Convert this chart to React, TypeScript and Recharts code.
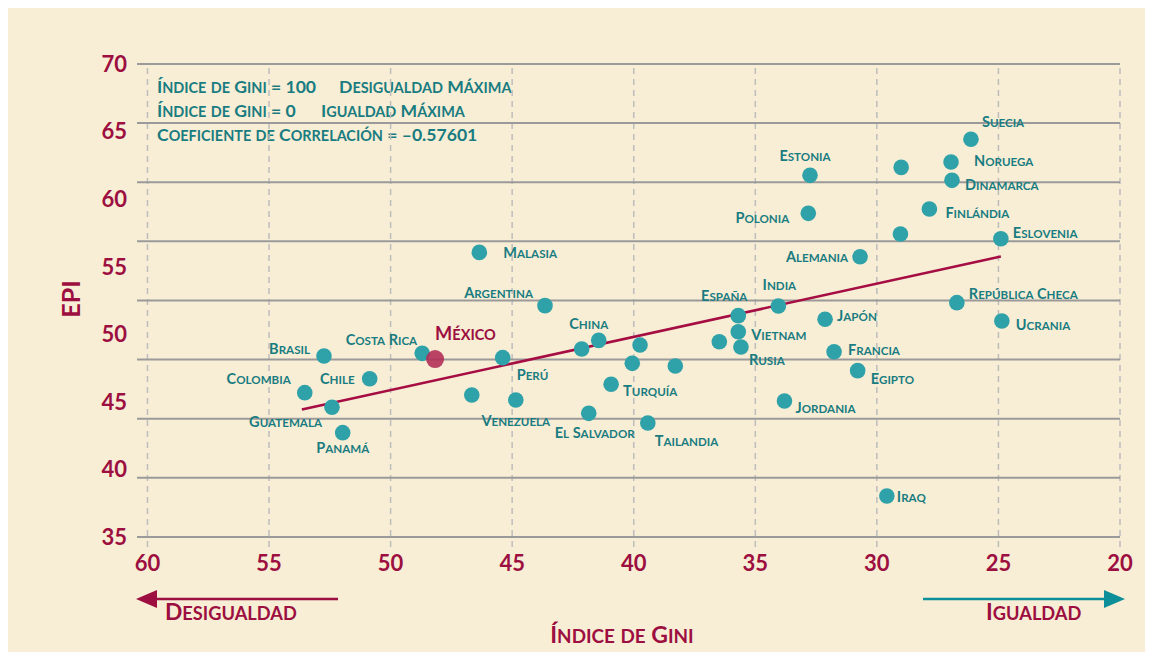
import React from 'react';
import {
  ScatterChart,
  Scatter,
  XAxis,
  YAxis,
  ReferenceLine,
  Customized,
} from 'recharts';

// ---- data ----
const COUNTRIES = [
  'Brasil', 'Costa Rica', 'Colombia', 'Chile', 'Guatemala', 'Panamá', 'Perú', '',
  'Venezuela', 'Argentina', '', 'China', 'Malasia', '', '', '', 'Turquía',
  'El Salvador', 'Tailandia', '', 'España', 'Vietnam', 'Rusia', 'India', 'Suecia', '',
  'Noruega', 'Dinamarca', 'Estonia', 'Polonia', 'Finlándia', '', 'Eslovenia',
  'Alemania', 'República Checa', 'Japón', 'Ucrania', 'Francia', 'Egipto', 'Jordania', 'Iraq',
];
const GINI = [
  52.74, 48.7, 53.53, 50.86, 52.41, 51.97, 45.39, 46.66,
  44.85, 43.65, 42.14, 41.44, 46.35, 39.74, 40.06, 38.29, 40.93,
  41.85, 39.42, 36.48, 35.7, 35.7, 35.59, 34.05, 26.13, 29.0,
  26.95, 26.91, 32.75, 32.82, 27.84, 29.03, 24.9,
  30.69, 26.71, 32.13, 24.86, 31.76, 30.79, 33.8, 29.59,
];
const EPI = [
  48.39, 48.59, 45.68, 46.71, 44.6, 42.72, 48.27, 45.51,
  45.14, 52.12, 48.91, 49.55, 56.06, 49.21, 47.85, 47.65, 46.3,
  44.15, 43.44, 49.45, 51.38, 50.19, 49.06, 52.09, 64.43, 62.35,
  62.75, 61.39, 61.76, 58.95, 59.27, 57.42, 57.07,
  55.74, 52.34, 51.11, 50.98, 48.71, 47.31, 45.06, 38.03,
];
const MEXICO_NAME = 'México';
const MEXICO_GINI = 48.17;
const MEXICO_EPI = 48.17;

const TREND_GINI = [53.65, 24.9];
const TREND_EPI = [44.44, 55.75];

const X_TICKS = [60, 55, 50, 45, 40, 35, 30, 25, 20];
const Y_TICKS = [35, 40, 45, 50, 55, 60, 65, 70];
const H_GRID = [35, 39.375, 43.75, 48.125, 52.5, 56.875, 61.25, 65.625, 70];

const NOTE_LINES = [
  ['Índice de Gini = 100', 'Desigualdad Máxima'],
  ['Índice de Gini = 0', 'Igualdad Máxima'],
  ['Coeficiente de Correlación = –0.57601', ''],
];
const X_TITLE = 'Índice de Gini';
const Y_TITLE = 'EPI';
const LEFT_ARROW_TEXT = 'Desigualdad';
const RIGHT_ARROW_TEXT = 'Igualdad';

// ---- styling ----
const CRIMSON = '#9c0f40';
const TEAL_TEXT = '#187c81';
const TEAL_DOT = '#2fa2a9';
const BG = '#f8eed5';
const FONT = "Lato, 'DejaVu Sans', sans-serif";

type Lay = { a: 'start' | 'middle' | 'end'; dx: number; dy: number };
const LABEL_LAYOUT: Record<string, Lay> = {
  'Brasil': { a: 'end', dx: -14, dy: -7 },
  'Costa Rica': { a: 'end', dx: -5, dy: -14 },
  'Colombia': { a: 'end', dx: -14, dy: -14 },
  'Chile': { a: 'end', dx: -15, dy: 0 },
  'Guatemala': { a: 'end', dx: -10, dy: 15 },
  'Panamá': { a: 'middle', dx: 0, dy: 15 },
  'Perú': { a: 'start', dx: 14, dy: 17 },
  'Venezuela': { a: 'middle', dx: 0, dy: 21 },
  'Argentina': { a: 'end', dx: -12, dy: -13 },
  'China': { a: 'middle', dx: -10, dy: -17 },
  'Malasia': { a: 'start', dx: 24, dy: 0 },
  'Turquía': { a: 'start', dx: 12, dy: 6 },
  'El Salvador': { a: 'middle', dx: 6, dy: 19 },
  'Tailandia': { a: 'start', dx: 7, dy: 18 },
  'España': { a: 'middle', dx: -14, dy: -20 },
  'Vietnam': { a: 'start', dx: 13, dy: 3 },
  'Rusia': { a: 'start', dx: 8, dy: 13 },
  'India': { a: 'middle', dx: 1, dy: -21 },
  'Suecia': { a: 'start', dx: 11, dy: -17 },
  'Noruega': { a: 'start', dx: 23, dy: -1 },
  'Dinamarca': { a: 'start', dx: 13, dy: 4 },
  'Estonia': { a: 'middle', dx: -5, dy: -20 },
  'Polonia': { a: 'end', dx: -19, dy: 4 },
  'Finlándia': { a: 'start', dx: 16, dy: 4 },
  'Eslovenia': { a: 'start', dx: 12, dy: -6 },
  'Alemania': { a: 'end', dx: -12, dy: 0 },
  'República Checa': { a: 'start', dx: 12, dy: -9 },
  'Japón': { a: 'start', dx: 12, dy: -4 },
  'Ucrania': { a: 'start', dx: 14, dy: 4 },
  'Francia': { a: 'start', dx: 14, dy: -2 },
  'Egipto': { a: 'start', dx: 13, dy: 8 },
  'Jordania': { a: 'start', dx: 11, dy: 7 },
  'Iraq': { a: 'start', dx: 10, dy: 1 },
  'México': { a: 'start', dx: 0, dy: -26 },
};

const countryData = COUNTRIES.map((name, i) => ({ name, gini: GINI[i], epi: EPI[i] }));
const mexicoData = [{ name: MEXICO_NAME, gini: MEXICO_GINI, epi: MEXICO_EPI }];
const trendSegment = TREND_GINI.map((g, i) => ({ x: g, y: TREND_EPI[i] }));

const W = 1145;
const H = 644;

// small caps: lowercase letters drawn as smaller capitals
function smallCaps(text: string, size: number, ratio = 0.8) {
  const parts: { s: string; small: boolean }[] = [];
  for (const ch of text) {
    const small = ch !== ch.toUpperCase();
    const last = parts[parts.length - 1];
    if (last && last.small === small) last.s += ch;
    else parts.push({ s: ch, small });
  }
  return parts.map((p, i) => (
    <tspan key={i} fontSize={p.small ? size * ratio : size}>
      {p.small ? p.s.toUpperCase() : p.s}
    </tspan>
  ));
}

const SCText = (props: {
  x: number; y: number; text: string; size: number; fill: string;
  anchor?: 'start' | 'middle' | 'end'; ratio?: number;
}) => (
  <text
    x={props.x}
    y={props.y}
    textAnchor={props.anchor || 'start'}
    fill={props.fill}
    fontFamily={FONT}
    fontWeight={700}
    fontSize={props.size}
    dominantBaseline="alphabetic"
  >
    {smallCaps(props.text, props.size, props.ratio)}
  </text>
);

const CountryDot = (props: any) => {
  const { cx, cy, payload } = props;
  const lay = LABEL_LAYOUT[payload?.name];
  const size = 14.5;
  return (
    <g>
      <circle cx={cx} cy={cy} r={7.8} fill={TEAL_DOT} />
      {payload?.name && lay ? (
        <SCText
          x={cx + lay.dx}
          y={cy + lay.dy + size * 0.36}
          text={payload.name}
          size={size}
          fill={TEAL_TEXT}
          anchor={lay.a}
        />
      ) : null}
    </g>
  );
};

const MexicoDot = (props: any) => {
  const { cx, cy, payload } = props;
  const lay = LABEL_LAYOUT[payload?.name];
  const size = 18.2;
  return (
    <g>
      <circle cx={cx} cy={cy} r={9} fill="#b02a55" fillOpacity={0.88} />
      <SCText
        x={cx + lay.dx}
        y={cy + lay.dy + size * 0.36}
        text={payload.name}
        size={size}
        fill={CRIMSON}
        anchor={lay.a}
        ratio={0.8}
      />
    </g>
  );
};

const Annotations = () => {
  const ts = 17.6;
  return (
    <g>
      {NOTE_LINES.map((ln, i) => (
        <g key={i}>
          <SCText x={149} y={79 + i * 24 + ts * 0.36} text={ln[0]} size={ts} fill={TEAL_TEXT} ratio={0.82} />
          {ln[1] ? (
            <SCText x={i === 0 ? 331 : 313} y={79 + i * 24 + ts * 0.36} text={ln[1]} size={ts} fill={TEAL_TEXT} ratio={0.82} />
          ) : null}
        </g>
      ))}
      <text
        x={0}
        y={0}
        transform="translate(62,291) rotate(-90)"
        textAnchor="middle"
        dominantBaseline="central"
        fill={CRIMSON}
        fontFamily={FONT}
        fontWeight={700}
        fontSize={25}
      >
        {Y_TITLE}
      </text>
      <SCText x={614} y={627 + 22 * 0.36} text={X_TITLE} size={23} fill={CRIMSON} anchor="middle" ratio={0.82} />
      {/* left arrow */}
      <line x1={330} y1={591} x2={145} y2={591} stroke={CRIMSON} strokeWidth={2.5} />
      <polygon points="128,591 149,582 149,600" fill={CRIMSON} />
      <SCText x={157} y={604 + 22 * 0.36} text={LEFT_ARROW_TEXT} size={22.8} fill={CRIMSON} ratio={0.8} />
      {/* right arrow */}
      <line x1={915} y1={591} x2={1100} y2={591} stroke="#0c8f99" strokeWidth={2.5} />
      <polygon points="1117,591 1096,582 1096,600" fill="#0c8f99" />
      <SCText x={978} y={604 + 22 * 0.36} text={RIGHT_ARROW_TEXT} size={22.8} fill={CRIMSON} ratio={0.8} />
    </g>
  );
};

export default function App() {
  return (
    <div style={{ width: W, height: H, background: BG }}>
      <ScatterChart width={W} height={H} margin={{ top: 56, right: 33, bottom: 0, left: 0 }}>
        {X_TICKS.map((v) => (
          <ReferenceLine key={'v' + v} x={v} stroke="#bdbdbd" strokeWidth={1.5} strokeDasharray="6 5" />
        ))}
        {H_GRID.map((v) => (
          <ReferenceLine key={'h' + v} y={v} stroke="#9a9a9a" strokeWidth={2} />
        ))}
        <XAxis
          type="number"
          dataKey="gini"
          reversed
          domain={[20, 60.43]}
          ticks={X_TICKS}
          allowDataOverflow
          axisLine={false}
          tickLine={false}
          tickMargin={2}
          height={105}
          tick={{ fill: CRIMSON, fontSize: 22, fontWeight: 700, fontFamily: FONT }}
        />
        <YAxis
          type="number"
          dataKey="epi"
          domain={[34.26, 70]}
          ticks={Y_TICKS}
          allowDataOverflow
          axisLine={false}
          tickLine={false}
          tickMargin={4}
          width={129}
          tick={{ fill: CRIMSON, fontSize: 22, fontWeight: 700, fontFamily: FONT }}
        />
        <Scatter data={countryData} shape={CountryDot} isAnimationActive={false} />
        <Scatter data={mexicoData} shape={MexicoDot} isAnimationActive={false} />
        <ReferenceLine segment={trendSegment} stroke="#a50d43" strokeWidth={2.5} />
        <Customized component={Annotations} />
      </ScatterChart>
    </div>
  );
}
